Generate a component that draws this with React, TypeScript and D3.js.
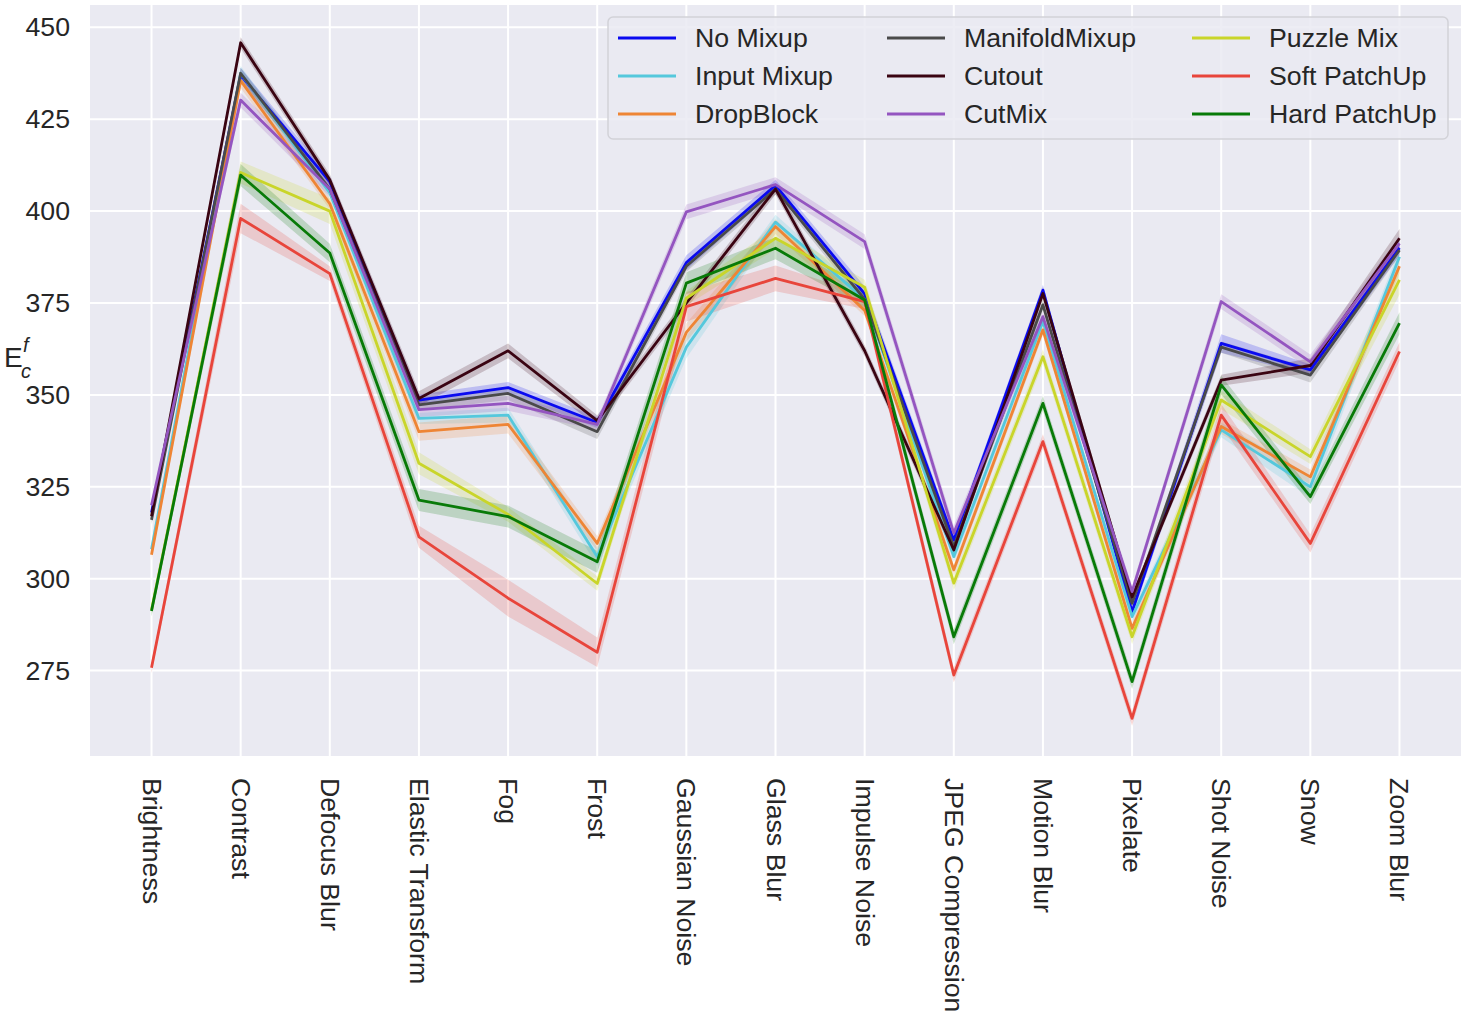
import React from "react";
import * as d3 from "d3";

const categories = [
  "Brightness", "Contrast", "Defocus Blur", "Elastic Transform", "Fog", "Frost",
  "Gaussian Noise", "Glass Blur", "Impulse Noise", "JPEG Compression", "Motion Blur",
  "Pixelate", "Shot Noise", "Snow", "Zoom Blur",
];

const yTicks = [275, 300, 325, 350, 375, 400, 425, 450];

const noMixup = [318, 437, 408, 348.6, 352, 342.5, 386, 407, 377.5, 310.5, 378.5, 291, 364, 356.8, 390];
const inputMixup = [308, 437.5, 405, 343.6, 344.5, 306, 363, 397, 376, 306, 370, 289.7, 340.5, 325, 387.6];
const dropBlock = [306.5, 435.5, 402, 340, 342, 309.6, 367, 395.8, 373, 302.4, 367.7, 286.5, 341.4, 327.7, 385];
const manifoldMixup = [316, 437.5, 406, 347.3, 350.4, 340, 385, 406, 376, 308.7, 374.5, 293.3, 363, 355.4, 389.4];
const cutout = [317, 445.8, 408.5, 349, 362, 343, 375, 406, 362, 307.8, 377.6, 295, 354, 358, 392.6];
const cutMix = [320, 430.2, 406, 346, 347.7, 342, 399.8, 407.2, 391.7, 312.4, 371.3, 296.5, 375.4, 359, 391.2];
const puzzleMix = [291.5, 410.5, 400, 331.4, 317.5, 298.7, 376.3, 392.6, 379.3, 298.8, 360.4, 284.2, 348.6, 333.2, 381.3];
const softPatchUp = [275.8, 398, 383, 311.4, 294.7, 280, 374, 381.7, 375.4, 273.8, 337.3, 262, 344.5, 309.6, 361.8];
const hardPatchUp = [291.2, 409.8, 388.6, 321.4, 316.9, 304.6, 380.4, 389.9, 375.8, 284.2, 347.7, 272, 352.7, 322.3, 369.5];

const noMixupErr = [1.5, 2, 1.5, 1.5, 1.5, 1.5, 2, 1.5, 2, 1.5, 1.5, 1.5, 2.5, 1.5, 2];
const inputMixupErr = [1.5, 2, 1.5, 1.5, 2, 2.5, 3, 2, 1.5, 1.5, 1.5, 1.5, 2, 3, 2];
const dropBlockErr = [1.5, 2, 1.5, 2.5, 2.5, 2, 2.5, 2, 1.5, 1.5, 1.5, 1.5, 2, 2, 2];
const manifoldMixupErr = [1.2, 1.5, 1.5, 1.5, 1.8, 2, 1.5, 1.5, 1.5, 1.5, 1.5, 1.2, 1.5, 2, 1.5];
const cutoutErr = [1.2, 1.5, 1.5, 2, 2, 1.5, 1.5, 1.5, 1.5, 1.5, 1.5, 1.2, 1.5, 2, 2.5];
const cutMixErr = [1.2, 2, 2, 2, 2, 1.5, 2, 2, 2, 2, 1.5, 1.5, 2, 2, 2];
const puzzleMixErr = [1, 3, 3.5, 3, 2, 2, 2, 3, 2, 2, 2, 2, 2.5, 2, 4];
const softPatchUpErr = [1.5, 4, 2, 3, 5, 4, 4, 3.5, 2, 2, 2, 2, 3, 2.5, 2.5];
const hardPatchUpErr = [1.5, 3, 2.5, 3, 3, 3, 3, 3, 2, 2, 2, 2, 2.5, 2, 3];

const seriesNames = [
  "No Mixup", "Input Mixup", "DropBlock", "ManifoldMixup", "Cutout", "CutMix",
  "Puzzle Mix", "Soft PatchUp", "Hard PatchUp",
];
const seriesColors = [
  "#0a0af0", "#55c8dc", "#ee8535", "#4a4a4a", "#3a0412", "#9455c0",
  "#c9d52a", "#e8453b", "#087a08",
];

const seriesValues = [noMixup, inputMixup, dropBlock, manifoldMixup, cutout, cutMix, puzzleMix, softPatchUp, hardPatchUp];
const seriesErrs = [noMixupErr, inputMixupErr, dropBlockErr, manifoldMixupErr, cutoutErr, cutMixErr, puzzleMixErr, softPatchUpErr, hardPatchUpErr];

const W = 1466;
const H = 1017;
const plot = { left: 90, right: 1461, top: 5, bottom: 756 };
const FONT = "'Liberation Sans', Arial, sans-serif";
const FS = 26.7;

export default function App() {
  const x = d3
    .scaleLinear()
    .domain([-0.69, categories.length - 1 + 0.69])
    .range([plot.left, plot.right]);
  const y = d3.scaleLinear().domain([251.77, 456.07]).range([plot.bottom, plot.top]);

  const line = d3
    .line<number>()
    .x((_, i) => x(i))
    .y((d) => y(d));

  const area = (vals: number[], errs: number[]) =>
    d3
      .area<number>()
      .x((_, i) => x(i))
      .y0((d, i) => y(d - errs[i]))
      .y1((d, i) => y(d + errs[i]))(vals) as string;

  const legendCols = [
    [0, 1, 2],
    [3, 4, 5],
    [6, 7, 8],
  ];
  const legendColX = [618, 887, 1192];
  const legendRowY = [38, 76, 114];

  return (
    <svg
      width={W}
      height={H}
      style={{ position: "absolute", left: 0, top: 0, background: "#ffffff" }}
      fontFamily={FONT}
    >
      <rect
        x={plot.left}
        y={plot.top}
        width={plot.right - plot.left}
        height={plot.bottom - plot.top}
        fill="#eaeaf2"
      />
      {yTicks.map((t) => (
        <line key={"gy" + t} x1={plot.left} x2={plot.right} y1={y(t)} y2={y(t)} stroke="#ffffff" strokeWidth={2} />
      ))}
      {categories.map((c, i) => (
        <line key={"gx" + c} x1={x(i)} x2={x(i)} y1={plot.top} y2={plot.bottom} stroke="#ffffff" strokeWidth={2} />
      ))}

      {seriesValues.map((vals, si) => (
        <path key={"a" + si} d={area(vals, seriesErrs[si])} fill={seriesColors[si]} fillOpacity={0.2} stroke="none" />
      ))}
      {seriesValues.map((vals, si) => (
        <path
          key={"l" + si}
          d={line(vals) as string}
          fill="none"
          stroke={seriesColors[si]}
          strokeWidth={2.8}
          strokeLinejoin="round"
        />
      ))}

      {yTicks.map((t) => (
        <text key={"ty" + t} x={70} y={y(t)} textAnchor="end" dominantBaseline="central" fontSize={FS} fill="#262626">
          {t}
        </text>
      ))}
      {categories.map((c, i) => (
        <text
          key={"tx" + c}
          transform={`translate(${x(i)},778) rotate(90)`}
          textAnchor="start"
          dominantBaseline="central"
          fontSize={FS}
          fill="#262626"
        >
          {c}
        </text>
      ))}

      <text x={4} y={367} fontSize={28} fill="#262626">
        E
      </text>
      <text x={23} y={352} fontSize={20} fontStyle="italic" fill="#262626">
        f
      </text>
      <text x={21} y={378} fontSize={20} fontStyle="italic" fill="#262626">
        c
      </text>

      <rect x={608} y={17} width={840} height={122} rx={5} fill="#eaeaf2" fillOpacity={0.85} stroke="#d2d2d8" strokeWidth={1.5} />
      {legendCols.map((col, ci) =>
        col.map((si, ri) => (
          <g key={"lg" + si}>
            <line
              x1={legendColX[ci]}
              x2={legendColX[ci] + 58}
              y1={legendRowY[ri]}
              y2={legendRowY[ri]}
              stroke={seriesColors[si]}
              strokeWidth={2.8}
            />
            <text
              x={legendColX[ci] + 77}
              y={legendRowY[ri]}
              dominantBaseline="central"
              fontSize={FS}
              fill="#262626"
            >
              {seriesNames[si]}
            </text>
          </g>
        ))
      )}
    </svg>
  );
}
